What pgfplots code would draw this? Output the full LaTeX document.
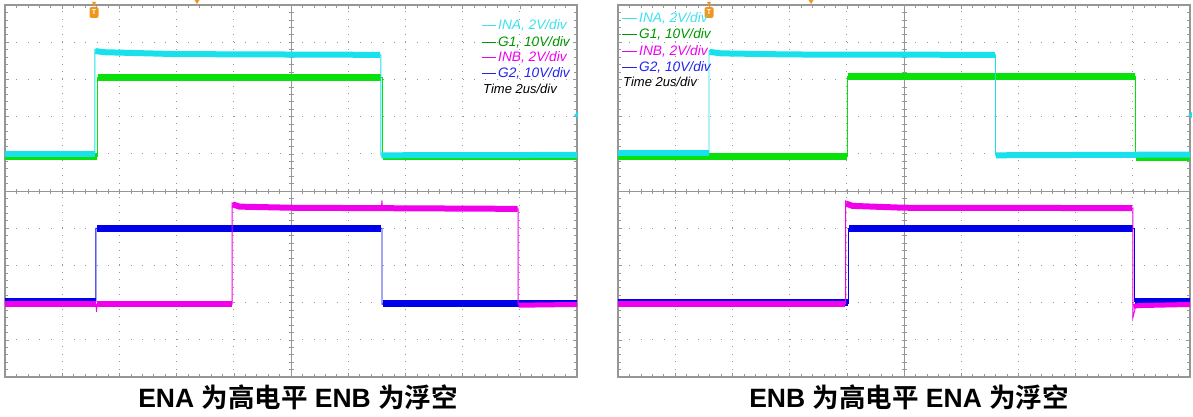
\documentclass[border=0pt]{standalone}
\usepackage{pgfplots}
\pgfplotsset{compat=1.18}
\usepackage{fontspec}
\setmainfont{Liberation Sans}
\newfontfamily\cjk{Noto Sans CJK SC}[BoldFont=* Bold]
\definecolor{cyanT}{RGB}{25,225,235}
\definecolor{greenT}{RGB}{10,225,10}
\definecolor{blueT}{RGB}{0,0,235}
\definecolor{magT}{RGB}{240,0,235}
\definecolor{legCyan}{RGB}{60,225,240}
\definecolor{legGreen}{RGB}{0,150,0}
\definecolor{legMag}{RGB}{240,0,240}
\definecolor{legBlue}{RGB}{35,35,240}
\definecolor{gridG}{RGB}{150,150,150}
\definecolor{trigO}{RGB}{240,150,30}
\pgfplotsset{scopestyle/.style={
  scale only axis, width=572pt, height=372pt,
  xmin=0,xmax=10,ymin=0,ymax=10,
  xtick={0,...,10}, ytick={0,...,10}, xticklabels={}, yticklabels={},
  minor x tick num=4, minor y tick num=4, tick align=inside,
  major tick length=4pt, minor tick length=3pt,
  every tick/.style={gridG, line width=0.6pt},
  grid=major,
  major x grid style={gridG, line width=1pt, dash pattern=on 1pt off 6.44pt},
  major y grid style={gridG, line width=1pt, dash pattern=on 1pt off 10.44pt},
  axis line style={gridG, line width=1.3pt},
  clip=true, anchor=south west,
},
edge/.style={line width=0.9pt, forget plot},
band/.style={line width=6pt, line cap=butt, forget plot},
}
\newcommand{\centerlines}{%
  \draw[gridG, line width=0.9pt] (axis cs:0,5) -- (axis cs:10,5);
  \draw[gridG, line width=0.9pt] (axis cs:5,0) -- (axis cs:5,10);
  \pgfplotsinvokeforeach{0.2,0.4,...,9.9}{\draw[gridG, line width=0.6pt] (axis cs:##1,5) ++(0,-2.5pt) -- ++(0,5pt);
    \draw[gridG, line width=0.6pt] (axis cs:5,##1) ++(-2.5pt,0) -- ++(5pt,0);}
}
\begin{document}
\begin{tikzpicture}
\useasboundingbox (0pt,0pt) rectangle (1193pt,416pt);
% ---------------- left panel ----------------
\begin{axis}[scopestyle, at={(5pt,39pt)}]
\centerlines
% G1
\addplot[greenT, edge] coordinates {(0,5.94) (1.61,5.94) (1.61,8.06) (6.59,8.06) (6.59,5.94) (10,5.94)};
\addplot[greenT, band, line width=7pt] coordinates {(0,5.94) (1.61,5.94)};
\addplot[greenT, band, line width=7pt] coordinates {(1.62,8.06) (6.58,8.06)};
\addplot[greenT, band, line width=7pt] coordinates {(6.6,5.94) (10,5.94)};
% INA
\addplot[cyanT, edge] coordinates {(0,6.0) (1.57,6.0) (1.57,8.8) (1.75,8.74) (3,8.68) (6.57,8.66) (6.57,5.96) (10,5.97)};
\addplot[cyanT, band] coordinates {(0,6.0) (1.57,6.0)};
\addplot[cyanT, band] coordinates {(1.58,8.76) (1.75,8.73) (3,8.68) (6.56,8.66)};
\addplot[cyanT, band] coordinates {(6.58,5.96) (10,5.97)};
% G2
\addplot[blueT, edge] coordinates {(0,2.03) (1.59,2.03) (1.59,4.0) (6.59,4.0) (6.59,1.96) (10,1.97)};
\addplot[blueT, band, line width=7pt] coordinates {(0,2.03) (1.59,2.03)};
\addplot[blueT, band, line width=7pt] coordinates {(1.6,4.0) (6.58,4.0)};
\addplot[blueT, band, line width=7pt] coordinates {(6.6,1.98) (10,1.98)};
% INB
\addplot[magT, edge] coordinates {(0,1.96) (1.59,1.96) (1.6,1.75) (1.61,1.96) (3.97,1.96) (3.97,4.68) (4.1,4.58) (5,4.55) (6.58,4.55) (6.59,4.75) (6.6,4.54) (8.97,4.52) (8.97,1.96) (10,1.96)};
\addplot[magT, band] coordinates {(0,1.95) (1.59,1.95)};
\addplot[magT, band] coordinates {(1.61,1.95) (3.96,1.95)};
\addplot[magT, band] coordinates {(3.98,4.64) (4.1,4.58) (5,4.55) (8.96,4.52)};
\addplot[magT, band, line width=5pt] coordinates {(8.98,1.93) (10,1.95)};
\end{axis}
% ---------------- right panel ----------------
\begin{axis}[scopestyle, at={(618pt,39pt)}]
\centerlines
% G1
\addplot[greenT, edge] coordinates {(0,5.94) (4.01,5.94) (4.01,8.09) (9.04,8.09) (9.04,5.91) (10,5.91)};
\addplot[greenT, band, line width=7pt] coordinates {(0,5.94) (4.0,5.94)};
\addplot[greenT, band, line width=7pt] coordinates {(4.02,8.09) (9.03,8.09)};
\addplot[greenT, band, line width=7pt] coordinates {(9.05,5.91) (10,5.91)};
% INA
\addplot[cyanT, edge] coordinates {(0,6.02) (1.59,6.02) (1.59,8.78) (1.8,8.7) (3,8.67) (6.6,8.66) (6.6,5.96) (10,5.97)};
\addplot[cyanT, band] coordinates {(0,6.02) (1.59,6.02)};
\addplot[cyanT, band] coordinates {(1.6,8.74) (1.8,8.7) (3,8.67) (6.59,8.66)};
\addplot[cyanT, band] coordinates {(6.61,5.96) (10,5.98)};
% G2
\addplot[blueT, edge] coordinates {(0,1.99) (4.03,1.99) (4.03,4.0) (9.02,4.0) (9.02,2.02) (10,2.02)};
\addplot[blueT, band, line width=7pt] coordinates {(0,1.99) (4.02,1.99)};
\addplot[blueT, band, line width=7pt] coordinates {(4.04,4.0) (9.01,4.0)};
\addplot[blueT, band, line width=7pt] coordinates {(9.03,2.02) (10,2.02)};
% INB
\addplot[magT, edge] coordinates {(0,1.96) (3.98,1.96) (3.98,4.73) (4.1,4.6) (5,4.55) (9.0,4.54) (9.0,1.58) (9.05,1.9) (10,1.96)};
\addplot[magT, band] coordinates {(0,1.95) (3.97,1.95)};
\addplot[magT, band] coordinates {(3.99,4.66) (4.1,4.6) (5,4.55) (8.99,4.54)};
\addplot[magT, band, line width=5pt] coordinates {(9.01,1.9) (9.1,1.92) (10,1.95)};
\end{axis}
% ---------------- markers ----------------
\foreach \tx/\sx/\cx in {94/197/574, 709/811/1188}{
  \fill[trigO, rounded corners=2pt] (\tx pt-4.5pt,398pt) rectangle (\tx pt+4.5pt,409pt);
  \node[white, font=\fontsize{7pt}{7pt}\selectfont\bfseries, inner sep=0pt] at (\tx pt,403.5pt) {T};
  \fill[trigO] (\tx pt-2pt,414pt) -- (\tx pt+2pt,414pt) -- (\tx pt,410pt) -- cycle;
  \fill[trigO] (\sx pt-2.5pt,416pt) -- (\sx pt+2.5pt,416pt) -- (\sx pt,412pt) -- cycle;
  \fill[cyanT] (\cx pt,301pt) -- (\cx pt+4pt,304pt) -- (\cx pt+4pt,298pt) -- cycle;
}
% ---------------- legends ----------------
\begin{scope}[every node/.style={anchor=west, inner sep=0pt, font=\fontsize{13.7pt}{15pt}\selectfont\itshape}]
  \draw[legCyan, line width=0.8pt] (482pt,391pt) -- (496pt,391pt);
  \node[legCyan] at (498pt,391pt) {INA, 2V/div};
  \draw[legGreen, line width=0.8pt] (482pt,374pt) -- (496pt,374pt);
  \node[legGreen] at (498pt,374pt) {G1, 10V/div};
  \draw[legMag, line width=0.8pt] (482pt,359pt) -- (496pt,359pt);
  \node[legMag] at (498pt,359pt) {INB, 2V/div};
  \draw[legBlue, line width=0.8pt] (482pt,343pt) -- (496pt,343pt);
  \node[legBlue] at (498pt,343pt) {G2, 10V/div};
  \node[black, font=\fontsize{13pt}{15pt}\selectfont\itshape] at (483pt,327pt) {Time 2us/div};
  %
  \draw[legCyan, line width=0.8pt] (622pt,398pt) -- (637pt,398pt);
  \node[legCyan] at (639pt,398pt) {INA, 2V/div};
  \draw[legGreen, line width=0.8pt] (622pt,382pt) -- (637pt,382pt);
  \node[legGreen] at (639pt,382pt) {G1, 10V/div};
  \draw[legMag, line width=0.8pt] (622pt,365pt) -- (637pt,365pt);
  \node[legMag] at (639pt,365pt) {INB, 2V/div};
  \draw[legBlue, line width=0.8pt] (622pt,349pt) -- (637pt,349pt);
  \node[legBlue] at (639pt,349pt) {G2, 10V/div};
  \node[black, font=\fontsize{13pt}{15pt}\selectfont\itshape] at (623pt,334pt) {Time 2us/div};
\end{scope}
% ---------------- captions ----------------
\node[font=\fontsize{26.5pt}{28pt}\selectfont\bfseries, inner sep=0pt, anchor=base] at (298pt,9pt) {ENA {\cjk\bfseries 为高电平} ENB {\cjk\bfseries 为浮空}};
\node[font=\fontsize{26.5pt}{28pt}\selectfont\bfseries, inner sep=0pt, anchor=base] at (909pt,9pt) {ENB {\cjk\bfseries 为高电平} ENA {\cjk\bfseries 为浮空}};
\end{tikzpicture}
\end{document}
